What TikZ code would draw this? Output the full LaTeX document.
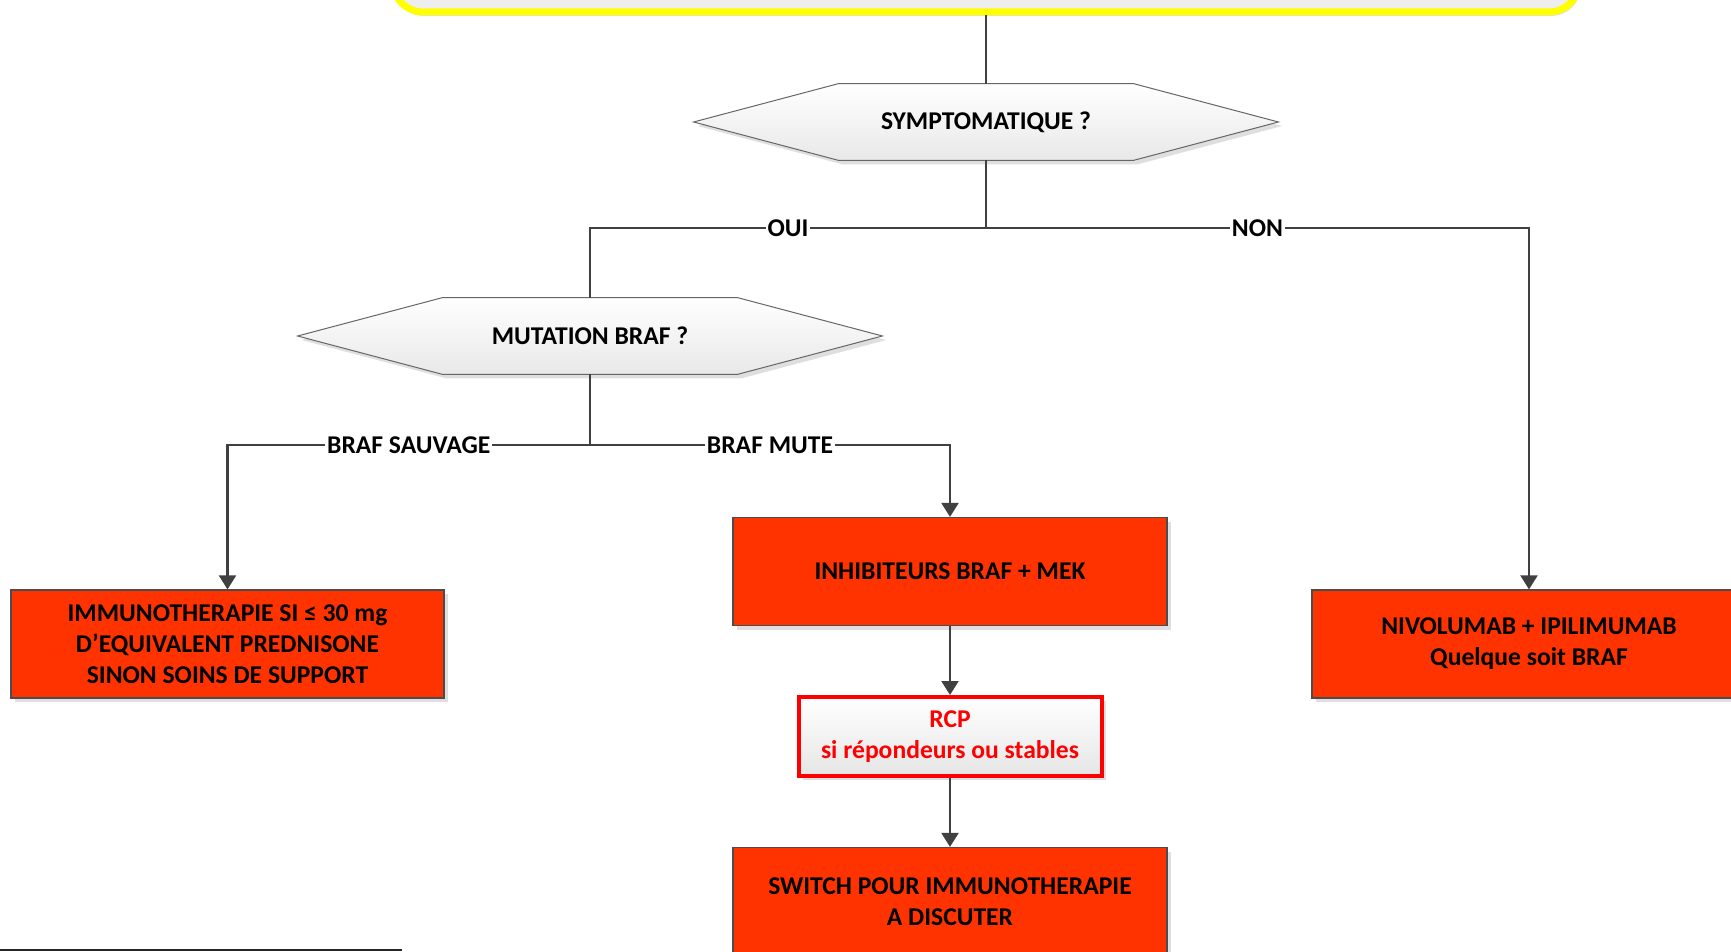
\documentclass[tikz,border=0pt]{standalone}
\usepackage{fontspec}
\setmainfont{Carlito}
\usetikzlibrary{arrows.meta,calc,shadows}
\definecolor{redfill}{HTML}{FF3300}
\definecolor{lineg}{HTML}{404040}
\definecolor{yell}{HTML}{FFFF00}
\definecolor{rcpred}{HTML}{FF0000}
\definecolor{topfill}{HTML}{EEEEEE}
\tikzset{
  every node/.style={font=\fontsize{12.8}{15.5}\selectfont\bfseries},
  shad/.style={drop shadow={shadow xshift=2pt,shadow yshift=-2pt,fill=black!25,opacity=0.5}},
  redbox/.style={draw=black!70,line width=0.6pt,fill=redfill,minimum width=217pt,minimum height=54pt,align=center,inner sep=0pt,shad},
  rcpbox/.style={draw=rcpred,line width=2pt,top color=white,bottom color=black!10,minimum width=151.5pt,minimum height=39.5pt,align=center,inner sep=0pt,text=rcpred,shad},
  hexnode/.style={minimum width=292pt,minimum height=38pt,inner sep=0pt},
  hexpath/.style={draw=black!60,line width=0.5pt,top color=white,bottom color=black!9,shad},
  conn/.style={draw=lineg,line width=1.1pt},
  arr/.style={conn,-{Triangle[length=7pt,width=8.5pt]}},
  lbl/.style={fill=white,inner sep=1pt}
}
\begin{document}
\begin{tikzpicture}[x=0.5pt,y=-0.5pt]
\useasboundingbox (0,0) rectangle (1731,952);
\clip (0,0) rectangle (1731,952);
% top yellow box
\node[draw=yell,line width=3.5pt,fill=topfill,rounded corners=15pt,minimum width=593pt,minimum height=50pt,drop shadow={shadow xshift=1pt,shadow yshift=-2pt,fill=black!25,opacity=0.5}] (top) at (986,-38) {};
% decision hexagons
\node[hexnode] (s) at (986,122) {};
\path[hexpath] (s.west) -- ($(s.north west)+(145,0)$) -- ($(s.north east)+(-145,0)$) -- (s.east) -- ($(s.south east)+(-145,0)$) -- ($(s.south west)+(145,0)$) -- cycle;
\node at (s.center) {SYMPTOMATIQUE ?};
\node[hexnode] (m) at (590,336) {};
\path[hexpath] (m.west) -- ($(m.north west)+(145,0)$) -- ($(m.north east)+(-145,0)$) -- (m.east) -- ($(m.south east)+(-145,0)$) -- ($(m.south west)+(145,0)$) -- cycle;
\node at (m.center) {MUTATION BRAF ?};
% action boxes
\node[redbox,minimum width=216.5pt] (b1) at (227.5,644) {IMMUNOTHERAPIE SI ≤ 30 mg\\D’EQUIVALENT PREDNISONE\\SINON SOINS DE SUPPORT};
\node[redbox] (b2) at (950,571.5) {INHIBITEURS BRAF + MEK};
\node[rcpbox] (rcp) at (950,736.5) {RCP\\si répondeurs ou stables};
\node[redbox] (sw) at (950,901.5) {SWITCH POUR IMMUNOTHERAPIE\\A DISCUTER};
\node[redbox] (nivo) at (1529,644) {NIVOLUMAB + IPILIMUMAB\\Quelque soit BRAF};
% junctions
\coordinate (j1) at (986,228);
\coordinate (j2) at (590,445);
% connectors
\draw[conn] (top.south) -- (s.north);
\draw[conn] (s.south) -- (j1);
\draw[conn] (m.north) |- (j1) node[lbl,pos=0.75] {OUI};
\draw[arr] (j1) -| (nivo.north) node[lbl,pos=0.25] {NON};
\draw[conn] (m.south) -- (j2);
\draw[arr] (j2) -| (b1.north) node[lbl,pos=0.25] {BRAF SAUVAGE};
\draw[arr] (j2) -| (b2.north) node[lbl,pos=0.25] {BRAF MUTE};
\draw[arr] (b2.south) -- (rcp.north);
\draw[arr] (rcp.south) -- (sw.north);
% footnote rule
\coordinate (r1) at (0,950);
\coordinate (r2) at (402,950);
\draw[black!85,line width=1.2pt,drop shadow={shadow xshift=1pt,shadow yshift=-1pt,fill=black!30,opacity=0.5}] (r1) -- (r2);
\end{tikzpicture}
\end{document}
